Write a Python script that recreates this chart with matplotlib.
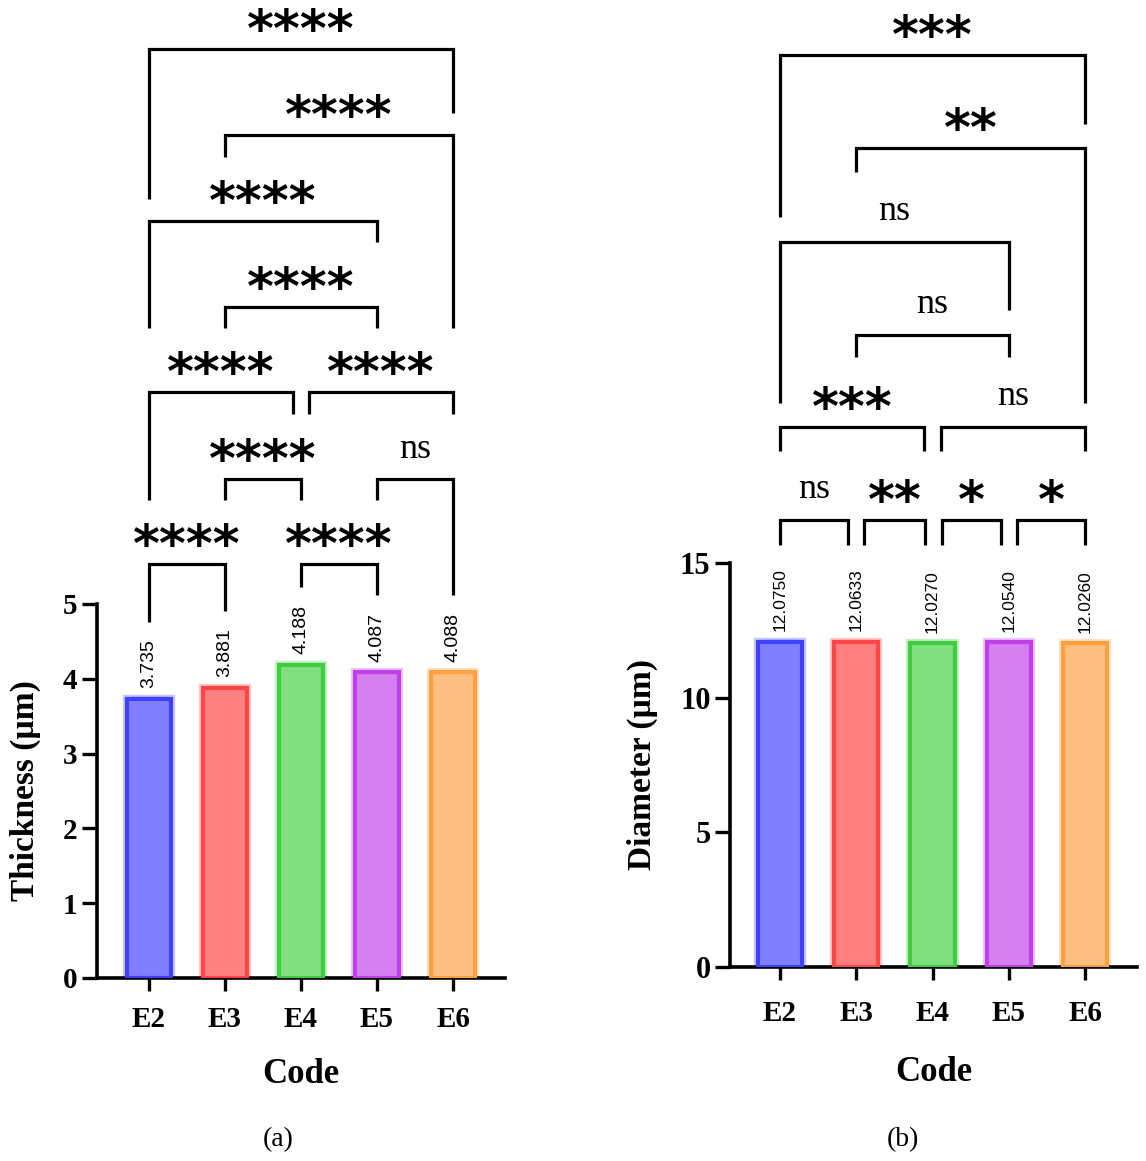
import matplotlib
matplotlib.use("Agg")
import matplotlib.pyplot as plt
import matplotlib.transforms as mtransforms

# ---------------- data ----------------
codes = ["E2", "E3", "E4", "E5", "E6"]
thickness = [3.735, 3.881, 4.188, 4.087, 4.088]
thickness_err = [0.010, 0.006, 0.008, 0.010, 0.008]
diameter = [12.0750, 12.0633, 12.0270, 12.0540, 12.0260]
diameter_err = [0.020, 0.025, 0.015, 0.020, 0.015]

face_colors = ["#8080FF", "#FF8080", "#80E080", "#D580EE", "#FFBF80"]
edge_colors = ["#4040FF", "#FF4545", "#40CC40", "#C040E8", "#FFA040"]

# comparisons: (i, j, label)
thick_pairs = [(0, 1, "****"), (2, 3, "****"), (1, 2, "****"), (3, 4, "ns"),
               (0, 2, "****"), (2, 4, "****"), (1, 3, "****"), (0, 3, "****"),
               (1, 4, "****"), (0, 4, "****")]
# layout for brackets: x1, x2, top y, left leg bottom, right leg bottom
thick_layout = [(0, 1, 5.535, 4.76, 4.91), (2, 3, 5.535, 5.23, 5.12),
                (1, 2, 6.67, 6.39, 6.39), (3, 4, 6.67, 6.39, 5.12),
                (0, 1.895, 7.83, 6.39, 7.54), (2.105, 4, 7.83, 7.54, 7.54),
                (1, 3, 8.97, 8.69, 8.69), (0, 3, 10.12, 8.69, 9.84),
                (1, 4, 11.27, 10.98, 8.69), (0, 4, 12.42, 10.41, 11.56)]

diam_pairs = [(0, 1, "ns"), (1, 2, "**"), (2, 3, "*"), (3, 4, "*"),
              (0, 2, "***"), (2, 4, "ns"), (1, 3, "ns"), (0, 3, "ns"),
              (1, 4, "**"), (0, 4, "***")]
diam_layout = [(0, 0.89, 16.60, 15.67, 15.67), (1.10, 1.90, 16.60, 15.67, 15.67),
               (2.12, 2.90, 16.60, 15.67, 15.67), (3.11, 4, 16.60, 15.67, 15.67),
               (0, 1.89, 20.05, 19.16, 19.16), (2.11, 4, 20.05, 19.16, 19.16),
               (1, 3, 23.47, 22.65, 22.65), (0, 3, 26.92, 20.94, 24.40),
               (1, 4, 30.41, 29.52, 20.94), (0, 4, 33.87, 27.85, 31.30)]

SERIF = ["Liberation Serif", "DejaVu Serif"]
SANS = ["Liberation Sans", "DejaVu Sans"]

fig = plt.figure(figsize=(11.46, 11.61), dpi=100)


def draw_panel(rect, values, errs, fmt, ylim, yticks, ylabel, xlim,
               pairs, layout, tick_fs, val_fs, xpad, xlabpad):
    ax = fig.add_axes(rect)
    x = list(range(len(codes)))
    # halo
    ax.bar(x, values, width=0.58, color="none", edgecolor=edge_colors,
           linewidth=6.0, alpha=0.3, zorder=2)
    ax.bar(x, values, width=0.58, color=face_colors, edgecolor=edge_colors,
           linewidth=3.0, zorder=3)
    for xi, v, e, c in zip(x, values, errs, edge_colors):
        ax.errorbar(xi, v, yerr=e, fmt="none", ecolor=c, elinewidth=1.2,
                    capsize=13, capthick=1.6, zorder=4)
    off = mtransforms.offset_copy(ax.transData, fig=fig, y=10, units="dots")
    for xi, v, e in zip(x, values, errs):
        ax.text(xi, v + e, fmt.format(v), rotation=90, ha="center",
                va="bottom", fontsize=val_fs, family=SANS, transform=off)
    ax.set_xlim(*xlim)
    ax.set_ylim(*ylim)
    ax.set_yticks(yticks)
    ax.set_yticklabels([str(t) for t in yticks], fontsize=tick_fs,
                       fontweight="bold", family=SERIF)
    ax.set_xticks(x)
    ax.set_xticklabels(codes, fontsize=21, fontweight="bold", family=SERIF)
    for s in ["top", "right"]:
        ax.spines[s].set_visible(False)
    for s in ["left", "bottom"]:
        ax.spines[s].set_linewidth(2.6)
    ax.tick_params(axis="y", length=11, width=2.4, pad=3)
    ax.tick_params(axis="x", length=9.5, width=2.4, pad=xpad)
    ax.set_ylabel(ylabel, fontsize=24, fontweight="bold", family=SERIF,
                  labelpad=16)
    ax.set_xlabel("Code", fontsize=25, fontweight="bold", family=SERIF,
                  labelpad=xlabpad)
    ns_off = mtransforms.offset_copy(ax.transData, fig=fig, y=30,
                                     units="dots")
    st_off = mtransforms.offset_copy(ax.transData, fig=fig, y=17,
                                     units="dots")
    for (i, j, lab), (x1, x2, yh, yl1, yl2) in zip(pairs, layout):
        ax.plot([x1, x1, x2, x2], [yl1, yh, yh, yl2], color="black",
                lw=2.3, clip_on=False, solid_joinstyle="miter",
                solid_capstyle="butt", zorder=5)
        xc = (x1 + x2) / 2
        if lab == "ns":
            ax.text(xc, yh, lab, ha="center", va="center", fontsize=26,
                    family=SERIF, transform=ns_off, clip_on=False)
        else:
            ax.text(xc, yh, lab, ha="center", va="center", fontsize=37,
                    fontweight="bold", family=["DejaVu Sans"],
                    transform=st_off, clip_on=False)
    return ax


W, H = 1146, 1161
rect_a = [97 / W, (H - 978) / H, (505 - 97) / W, (978 - 604) / H]
rect_b = [730 / W, (H - 967) / H, (1137 - 730) / W, (967 - 563) / H]

draw_panel(rect_a, thickness, thickness_err, "{:.3f}", (0, 5),
           [0, 1, 2, 3, 4, 5], "Thickness (µm)", (-0.684, 4.684),
           thick_pairs, thick_layout, 21, 14, 11, 18)
draw_panel(rect_b, diameter, diameter_err, "{:.4f}", (0, 15),
           [0, 5, 10, 15], "Diameter (µm)", (-0.656, 4.68),
           diam_pairs, diam_layout, 22, 12.5, 14, 21)

fig.text(278 / W, 1 - 1140 / H, "(a)", ha="center", va="center",
         fontsize=20, family=SERIF)
fig.text(903 / W, 1 - 1140 / H, "(b)", ha="center", va="center",
         fontsize=20, family=SERIF)

fig.savefig("out.png", dpi=100)
